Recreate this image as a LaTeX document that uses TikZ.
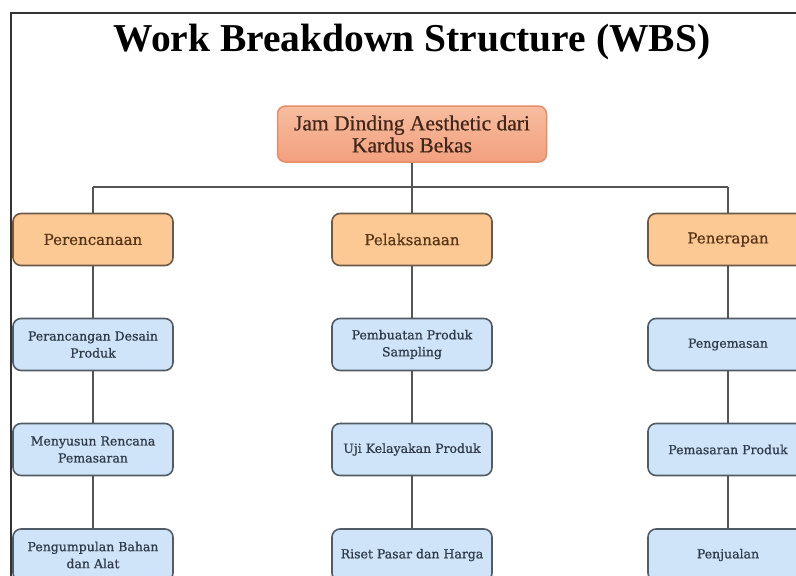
\documentclass[tikz,border=0pt]{standalone}
\usepackage{fontspec}
\setmainfont{DejaVu Serif}
\newfontfamily\titlefont{Liberation Serif}
\newfontfamily\rootfont[FakeBold=0.6]{Liberation Serif}
\newfontfamily\boxfont[FakeBold=0.7]{DejaVu Serif}
\definecolor{framegray}{HTML}{333333}
\definecolor{linegray}{HTML}{555555}
\definecolor{rootfill}{HTML}{F2A07E}
\definecolor{roottop}{HTML}{F7BDA0}
\definecolor{rootdraw}{HTML}{E58E68}
\definecolor{roottext}{HTML}{43261A}
\definecolor{phasefill}{HTML}{FCC995}
\definecolor{phasedraw}{HTML}{6B5A48}
\definecolor{phasetext}{HTML}{553417}
\definecolor{taskfill}{HTML}{CFE4F8}
\definecolor{taskdraw}{HTML}{525C66}
\definecolor{tasktext}{HTML}{2E3A4A}
\tikzset{
  rootbox/.style={rectangle, rounded corners=8pt, draw=rootdraw, line width=1.5pt,
    top color=roottop, bottom color=rootfill, text=roottext,
    minimum width=269pt, minimum height=56pt, align=center,
    font=\rootfont\fontsize{21.5}{22}\selectfont, inner sep=2pt},
  phasebox/.style={rectangle, rounded corners=8pt, draw=phasedraw, line width=1.6pt,
    fill=phasefill, text=phasetext, minimum width=160pt, minimum height=52pt,
    align=center, font=\boxfont\fontsize{15}{17}\selectfont, inner sep=2pt},
  taskbox/.style={rectangle, rounded corners=8pt, draw=taskdraw, line width=1.6pt,
    fill=taskfill, text=tasktext, minimum width=160pt, minimum height=52pt,
    align=center, font=\boxfont\fontsize{12.5}{17}\selectfont, inner sep=2pt},
  link/.style={draw=linegray, line width=1.4pt}
}
\begin{document}
\begin{tikzpicture}[x=1pt, y=-1pt]
  \useasboundingbox (0,0) rectangle (796,576);
  \clip (0,0) rectangle (796,576);
  \fill[white] (0,0) rectangle (796,576);
  % outer frame
  \draw[framegray, line width=2pt] (11,600) -- (11,13) -- (820,13);
  % title
  \node[anchor=base, font=\titlefont\bfseries\fontsize{39.5}{44}\selectfont]
    (title) at (412,51) {Work Breakdown Structure (WBS)};
  % root
  \node[rootbox] (root) at (412,134) {Jam Dinding Aesthetic dari\\Kardus Bekas};
  % phases
  \node[phasebox] (plan) at (93,239.5) {Perencanaan};
  \node[phasebox] (exec) at (412,239.5) {Pelaksanaan};
  \node[phasebox] (apply) at (728,239.5) {Penerapan};
  % tasks
  \node[taskbox] (p1) at (93,344.5) {Perancangan Desain\\Produk};
  \node[taskbox] (p2) at (93,449.5) {Menyusun Rencana\\Pemasaran};
  \node[taskbox] (p3) at (93,555) {Pengumpulan Bahan\\dan Alat};
  \node[taskbox] (e1) at (412,344.5) {Pembuatan Produk\\Sampling};
  \node[taskbox] (e2) at (412,449.5) {Uji Kelayakan Produk};
  \node[taskbox] (e3) at (412,555) {Riset Pasar dan Harga};
  \node[taskbox] (a1) at (728,344.5) {Pengemasan};
  \node[taskbox] (a2) at (728,449.5) {Pemasaran Produk};
  \node[taskbox] (a3) at (728,555) {Penjualan};
  % connectors: root to the horizontal bus, bus down to each phase
  \coordinate (bus) at (412,187);
  \draw[link] (root.south) -- (root.south |- bus);
  \draw[link] (plan.north |- bus) -- (apply.north |- bus);
  \draw[link] (plan.north |- bus) -- (plan.north);
  \draw[link] (exec.north |- bus) -- (exec.north);
  \draw[link] (apply.north |- bus) -- (apply.north);
  % phase to task chains
  \draw[link] (plan.south) -- (p1.north);
  \draw[link] (p1.south) -- (p2.north);
  \draw[link] (p2.south) -- (p3.north);
  \draw[link] (exec.south) -- (e1.north);
  \draw[link] (e1.south) -- (e2.north);
  \draw[link] (e2.south) -- (e3.north);
  \draw[link] (apply.south) -- (a1.north);
  \draw[link] (a1.south) -- (a2.north);
  \draw[link] (a2.south) -- (a3.north);
\end{tikzpicture}
\end{document}
